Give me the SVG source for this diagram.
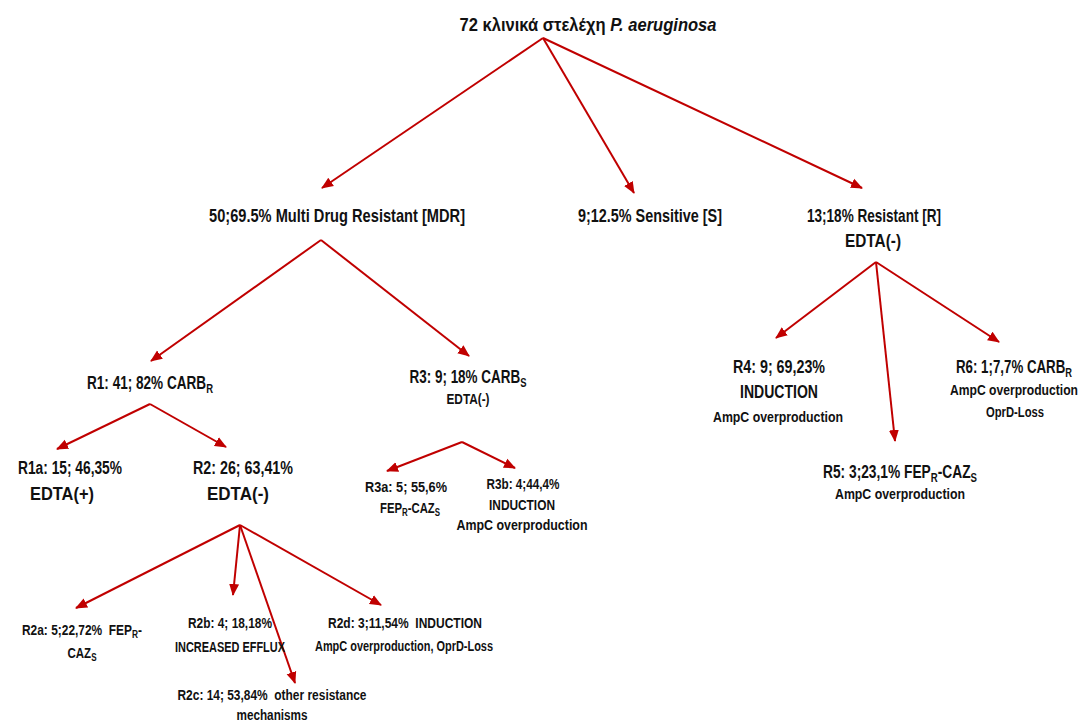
<svg xmlns="http://www.w3.org/2000/svg" width="1085" height="725" viewBox="0 0 1085 725">
<style>
text{font-family:"Liberation Sans Narrow","Liberation Sans","DejaVu Sans Condensed",sans-serif;font-weight:bold;fill:#111;text-anchor:middle}
.l{font-size:19px}
.m{font-size:18px}
.s{font-size:14.5px}
.sub{font-size:70%}
.c{fill:none;stroke:#C00000;stroke-width:2;marker-end:url(#ah)}
</style>
<defs>
<marker id="ah" markerUnits="userSpaceOnUse" markerWidth="12" markerHeight="12" viewBox="0 0 12 12" refX="11" refY="6" orient="auto">
<path d="M0,1 L12,6 L0,11 Z" fill="#C00000"/>
</marker>
</defs>
<rect width="1085" height="725" fill="#fff"/>
<g id="connectors">
<path class="c" d="M543,38 L322,188"/>
<path class="c" d="M543,38 L634,193"/>
<path class="c" d="M543,38 L862,188"/>
<path class="c" d="M321,240 L151,361"/>
<path class="c" d="M321,240 L469,356"/>
<path class="c" d="M150,404 L57,449"/>
<path class="c" d="M150,404 L226,447"/>
<path class="c" d="M462,442 L387,471"/>
<path class="c" d="M462,442 L515,468"/>
<path class="c" d="M876,262 L776,338"/>
<path class="c" d="M876,262 L895,441"/>
<path class="c" d="M876,262 L999,342"/>
<path class="c" d="M240,525 L76,608"/>
<path class="c" d="M240,525 L233,595"/>
<path class="c" d="M240,525 L295,683"/>
<path class="c" d="M240,525 L381,605"/>
</g>
<g id="root"><text class="l" x="588" y="31" textLength="257" lengthAdjust="spacingAndGlyphs">72 κλινικά στελέχη <tspan font-style="italic">P. aeruginosa</tspan></text></g>
<g id="mdr"><text class="l" x="337" y="222" textLength="256" lengthAdjust="spacingAndGlyphs">50;69.5% Multi Drug Resistant [MDR]</text></g>
<g id="sensitive"><text class="l" x="650" y="222" textLength="144" lengthAdjust="spacingAndGlyphs">9;12.5% Sensitive [S]</text></g>
<g id="resistant">
<text class="l" x="874" y="222" textLength="134" lengthAdjust="spacingAndGlyphs">13;18% Resistant [R]</text>
<text class="l" x="873" y="247" textLength="56" lengthAdjust="spacingAndGlyphs">EDTA(-)</text>
</g>
<g id="r1"><text class="m" x="150" y="389" textLength="126" lengthAdjust="spacingAndGlyphs">R1: 41; 82% CARB<tspan class="sub" dy="4">R</tspan></text></g>
<g id="r1a">
<text class="m" x="70" y="474" textLength="104" lengthAdjust="spacingAndGlyphs">R1a: 15; 46,35%</text>
<text class="m" x="62" y="500" textLength="64" lengthAdjust="spacingAndGlyphs">EDTA(+)</text>
</g>
<g id="r2">
<text class="m" x="243" y="474" textLength="100" lengthAdjust="spacingAndGlyphs">R2: 26; 63,41%</text>
<text class="m" x="238" y="500" textLength="62" lengthAdjust="spacingAndGlyphs">EDTA(-)</text>
</g>
<g id="r3">
<text class="m" x="468" y="383" textLength="117" lengthAdjust="spacingAndGlyphs">R3: 9; 18% CARB<tspan class="sub" dy="4">S</tspan></text>
<text class="s" x="468" y="404" textLength="43" lengthAdjust="spacingAndGlyphs">EDTA(-)</text>
</g>
<g id="r3a">
<text class="s" x="406" y="492" textLength="82" lengthAdjust="spacingAndGlyphs">R3a: 5; 55,6%</text>
<text class="s" x="410" y="513" textLength="60" lengthAdjust="spacingAndGlyphs">FEP<tspan class="sub" dy="3">R</tspan><tspan dy="-3">-CAZ</tspan><tspan class="sub" dy="3">S</tspan></text>
</g>
<g id="r3b">
<text class="s" x="523" y="489" textLength="73" lengthAdjust="spacingAndGlyphs">R3b: 4;44,4%</text>
<text class="s" x="522" y="510" textLength="66" lengthAdjust="spacingAndGlyphs">INDUCTION</text>
<text class="s" x="522" y="530" textLength="131" lengthAdjust="spacingAndGlyphs">AmpC overproduction</text>
</g>
<g id="r4">
<text class="m" x="779" y="373" textLength="92" lengthAdjust="spacingAndGlyphs">R4: 9; 69,23%</text>
<text class="m" x="779" y="398" textLength="78" lengthAdjust="spacingAndGlyphs">INDUCTION</text>
<text class="s" x="778" y="422" textLength="130" lengthAdjust="spacingAndGlyphs">AmpC overproduction</text>
</g>
<g id="r5">
<text class="m" x="900" y="478" textLength="154" lengthAdjust="spacingAndGlyphs">R5: 3;23,1% FEP<tspan class="sub" dy="4">R</tspan><tspan dy="-4">-CAZ</tspan><tspan class="sub" dy="4">S</tspan></text>
<text class="s" x="900" y="499" textLength="130" lengthAdjust="spacingAndGlyphs">AmpC overproduction</text>
</g>
<g id="r6">
<text class="m" x="1014" y="373" textLength="116" lengthAdjust="spacingAndGlyphs">R6: 1;7,7% CARB<tspan class="sub" dy="4">R</tspan></text>
<text class="s" x="1014" y="395" textLength="128" lengthAdjust="spacingAndGlyphs">AmpC overproduction</text>
<text class="s" x="1015" y="417" textLength="58" lengthAdjust="spacingAndGlyphs">OprD-Loss</text>
</g>
<g id="r2a">
<text class="s" x="82" y="635" textLength="120" lengthAdjust="spacingAndGlyphs" xml:space="preserve">R2a: 5;22,72%  FEP<tspan class="sub" dy="3">R</tspan><tspan dy="-3">-</tspan></text>
<text class="s" x="82" y="658" textLength="29" lengthAdjust="spacingAndGlyphs">CAZ<tspan class="sub" dy="3">S</tspan></text>
</g>
<g id="r2b">
<text class="s" x="230" y="628" textLength="84" lengthAdjust="spacingAndGlyphs">R2b: 4; 18,18%</text>
<text class="s" x="230" y="652" textLength="110" lengthAdjust="spacingAndGlyphs">INCREASED EFFLUX</text>
</g>
<g id="r2c">
<text class="s" x="272" y="700" textLength="189" lengthAdjust="spacingAndGlyphs" xml:space="preserve">R2c: 14; 53,84%  other resistance</text>
<text class="s" x="272" y="720" textLength="71" lengthAdjust="spacingAndGlyphs">mechanisms</text>
</g>
<g id="r2d">
<text class="s" x="405" y="628" textLength="154" lengthAdjust="spacingAndGlyphs" xml:space="preserve">R2d: 3;11,54%  INDUCTION</text>
<text class="s" x="404" y="651" textLength="178" lengthAdjust="spacingAndGlyphs">AmpC overproduction, OprD-Loss</text>
</g>
</svg>
